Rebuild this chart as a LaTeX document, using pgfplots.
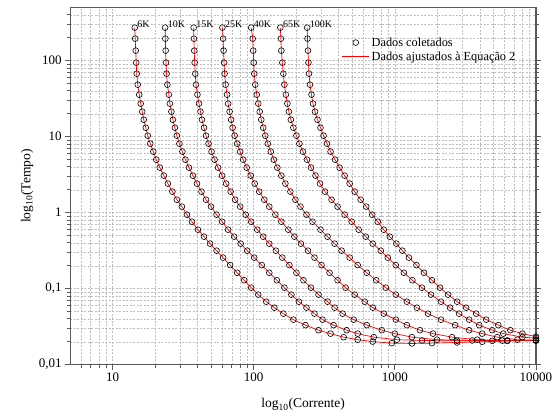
\documentclass[border=0pt]{standalone}
\usepackage{fontspec}
\setmainfont{Liberation Serif}
\usepackage{pgfplots}
\usepackage{pgfplotstable}
\pgfplotsset{compat=1.18}
\pgfplotsset{
  legmark/.style={legend image code/.code={\draw[black, line width=0.6pt] (13.5pt,0pt) circle (2.9pt);}},
  legline/.style={legend image code/.code={\draw[red, line width=0.7pt] (0pt,0pt) -- (27pt,0pt);}},
  circ/.style={only marks, mark=o, mark size=2.9pt, black, mark options={line width=0.6pt}},
  fit/.style={red, line width=0.7pt, no marks},
}

% curva 6K
\pgfplotstableread{
I t
14.35 271.8
14.46 194.7
14.58 135.4
14.70 94.1
14.82 67.4
15.07 48.3
15.44 35.7
15.82 27.2
16.22 21.3
16.62 16.7
17.18 13.1
17.74 10.3
18.49 8.09
19.42 6.35
20.40 4.98
21.60 3.91
23.07 3.07
24.64 2.41
26.52 1.89
28.54 1.48
30.98 1.20
33.63 0.941
36.50 0.761
40.27 0.597
44.43 0.483
49.03 0.391
54.54 0.316
60.66 0.256
68.03 0.204
76.31 0.162
85.59 0.129
96.00 0.103
107.7 0.0834
122.7 0.0674
140.0 0.0562
162.2 0.0469
191.0 0.0391
232.6 0.0331
287.8 0.0284
350.3 0.0256
433.5 0.0230
545.4 0.0213
697.2 0.0201
951.9 0.0192
1321 0.0190
1833 0.0192
2763 0.0196
4161 0.0200
6269 0.0205
10000 0.0209
}\tabA

% curva 10K
\pgfplotstableread{
I t
23.56 271.8
23.65 194.7
23.76 135.4
23.92 94.1
24.11 67.4
24.43 48.3
25.04 35.7
25.45 27.2
26.09 21.3
26.73 16.7
27.63 13.1
28.54 10.3
29.73 8.09
31.23 6.35
32.81 4.98
34.74 3.91
37.10 3.07
39.62 2.41
42.65 1.89
45.91 1.48
49.83 1.20
54.54 0.941
59.67 0.761
65.85 0.597
72.63 0.483
80.81 0.391
89.89 0.316
100.8 0.256
114.0 0.204
128.9 0.162
145.8 0.129
164.9 0.103
184.9 0.0834
209.0 0.0674
236.5 0.0562
269.5 0.0469
307.2 0.0391
367.9 0.0331
455.4 0.0284
545.4 0.0256
708.7 0.0230
1033 0.0213
1557 0.0208
2763 0.0206
4903 0.0206
10000 0.0208
}\tabB

% curva 15K
\pgfplotstableread{
I t
37.53 271.8
37.71 194.7
37.89 135.4
38.15 94.1
38.53 67.4
38.97 48.3
39.94 35.7
40.94 27.2
41.96 21.3
43.00 16.7
44.43 13.1
45.91 10.3
47.83 8.09
50.25 6.35
52.77 4.98
55.88 3.91
59.67 3.07
63.73 2.41
68.60 1.89
73.84 1.48
80.15 1.20
87.71 0.941
96.00 0.761
105.9 0.597
116.8 0.483
128.9 0.391
143.5 0.316
159.5 0.256
178.9 0.204
200.7 0.162
225.1 0.129
254.5 0.103
287.8 0.0834
333.5 0.0674
374.1 0.0562
426.5 0.0469
510.8 0.0391
632.0 0.0331
808.1 0.0284
1000 0.0256
1321 0.0230
1990 0.0213
3532 0.0208
5775 0.0207
10000 0.0208
}\tabC

% curva 25K
\pgfplotstableread{
I t
59.96 271.8
60.66 194.7
61.16 135.4
61.66 94.1
62.18 67.4
63.20 48.3
64.78 35.7
65.85 27.2
67.49 21.3
69.17 16.7
70.87 13.1
73.25 10.3
76.31 8.09
80.15 6.35
84.20 4.98
89.17 3.91
95.19 3.07
101.6 2.41
109.4 1.89
118.8 1.48
128.9 1.20
142.3 0.941
156.9 0.761
176.0 0.597
194.2 0.483
216.0 0.391
242.3 0.316
269.5 0.256
302.2 0.204
344.6 0.162
392.9 0.129
447.8 0.103
519.2 0.0834
611.6 0.0674
697.2 0.0562
835.0 0.0469
1016 0.0391
1217 0.0331
1507 0.0284
1864 0.0256
2545 0.0230
3833 0.0213
6269 0.0208
10000 0.0208
}\tabD

% curva 40K
\pgfplotstableread{
I t
96.00 271.8
98.37 194.7
99.18 135.4
100.0 94.1
100.8 67.4
102.5 48.3
105.1 35.7
107.7 27.2
110.3 21.3
113.1 16.7
116.8 13.1
120.8 10.3
125.8 8.09
132.1 6.35
138.8 4.98
147.0 3.91
156.9 3.07
167.6 2.41
181.9 1.89
197.4 1.48
214.3 1.20
236.5 0.941
260.9 0.761
297.3 0.597
333.5 0.483
374.1 0.391
419.6 0.316
478.3 0.256
545.4 0.204
632.0 0.162
738.4 0.129
862.9 0.103
1016 0.0834
1217 0.0674
1434 0.0562
1718 0.0469
2125 0.0391
2673 0.0331
3363 0.0284
4161 0.0256
5321 0.0230
7384 0.0213
10000 0.0210
}\tabE

% curva 65K
\pgfplotstableread{
I t
154.4 271.8
155.7 194.7
156.9 135.4
159.5 94.1
162.2 67.4
164.9 48.3
169.0 35.7
173.1 27.2
177.4 21.3
183.3 16.7
191.0 13.1
200.7 10.3
210.7 8.09
223.3 6.35
238.4 4.98
254.5 3.91
274.0 3.07
295.0 2.41
320.1 1.89
356.1 1.48
392.9 1.20
440.7 0.941
494.3 0.761
554.4 0.597
621.8 0.483
697.2 0.391
795.0 0.316
891.7 0.256
1016 0.204
1159 0.162
1332 0.129
1557 0.103
1804 0.0834
2125 0.0674
2464 0.0562
2854 0.0469
3363 0.0391
3962 0.0331
4903 0.0284
5870 0.0256
8015 0.0230
10000 0.0223
}\tabF

% curva 100K
\pgfplotstableread{
I t
239.2 271.8
240.4 194.7
242.3 135.4
244.3 94.1
246.4 67.4
250.4 48.3
256.6 35.7
263.0 27.2
271.8 21.3
283.1 16.7
297.3 13.1
312.3 10.3
330.8 8.09
350.3 6.35
377.1 4.98
406.0 3.91
440.7 3.07
478.3 2.41
519.2 1.89
572.7 1.48
626.9 1.20
691.7 0.941
757.0 0.761
835.0 0.597
921.3 0.483
1025 0.391
1131 0.316
1258 0.256
1423 0.204
1609 0.162
1833 0.129
2090 0.103
2384 0.0834
2763 0.0674
3201 0.0562
3771 0.0469
4443 0.0391
5408 0.0331
6585 0.0284
8015 0.0256
10000 0.0234
}\tabG

\begin{document}
\begin{tikzpicture}
\begin{axis}[
  scale only axis, width=465pt, height=356.5pt,
  xmode=log, ymode=log,
  xmin=5, xmax=10000, ymin=0.01, ymax=500,
  xtick={10,100,1000,10000}, xticklabels={10,100,1000,10000},
  ytick={0.01,0.1,1,10,100}, yticklabels={{0,01},{0,1},1,10,100},
  minor xtick={6,7,8,9,20,30,40,50,60,70,80,90,200,300,400,500,600,700,800,900,2000,3000,4000,5000,6000,7000,8000,9000},
  minor ytick={0.02,0.03,0.04,0.05,0.06,0.07,0.08,0.09,0.2,0.3,0.4,0.5,0.6,0.7,0.8,0.9,2,3,4,5,6,7,8,9,20,30,40,50,60,70,80,90,200,300,400},
  grid=both,
  major grid style={gray!50, dash pattern=on 2pt off 1.5pt, line width=0.5pt},
  minor grid style={gray!50, dash pattern=on 2pt off 1.5pt, line width=0.5pt},
  axis line style={black!65, line width=1.2pt},
  tick style={black!65, line width=0.8pt},
  tick align=outside,
  xtick pos=bottom, ytick pos=both,
  major tick length=5pt, minor tick length=3pt,
  tick label style={font=\fontsize{13}{14}\selectfont},
  xlabel={log\textsubscript{10}(Corrente)},
  ylabel={log\textsubscript{10}(Tempo)},
  label style={font=\fontsize{13.5}{15}\selectfont},
  xlabel style={at={(axis description cs:0.5,-0.112)}, anchor=center},
  ylabel style={at={(axis description cs:-0.0925,0.5)}, anchor=center},
  legend style={draw=none, fill=none, at={(axis description cs:0.583,0.922)}, anchor=north west,
    font=\fontsize{12.3}{13}\selectfont, inner sep=0pt, row sep=0pt,
    nodes={inner sep=2pt}},
  legend cell align=left,
]
\addplot[circ, legmark] table[x=I,y=t]{\tabA};
\addlegendentry{Dados coletados}
\addplot[forget plot, circ] table[x=I,y=t]{\tabB};
\addplot[forget plot, circ] table[x=I,y=t]{\tabC};
\addplot[forget plot, circ] table[x=I,y=t]{\tabD};
\addplot[forget plot, circ] table[x=I,y=t]{\tabE};
\addplot[forget plot, circ] table[x=I,y=t]{\tabF};
\addplot[forget plot, circ] table[x=I,y=t]{\tabG};

\addplot[fit, legline] table[x=I,y=t]{\tabA};
\addlegendentry{Dados ajustados à Equação 2}
\addplot[forget plot, fit] table[x=I,y=t]{\tabB};
\addplot[forget plot, fit] table[x=I,y=t]{\tabC};
\addplot[forget plot, fit] table[x=I,y=t]{\tabD};
\addplot[forget plot, fit] table[x=I,y=t]{\tabE};
\addplot[forget plot, fit] table[x=I,y=t]{\tabF};
\addplot[forget plot, fit] table[x=I,y=t]{\tabG};

\begin{scope}[every node/.style={anchor=base west, inner sep=0pt, xshift=2.5pt, font=\fontsize{10}{10}\selectfont}]
\node at (axis cs:14.35,271.8) {6K};
\node at (axis cs:23.56,271.8) {10K};
\node at (axis cs:37.53,271.8) {15K};
\node at (axis cs:59.96,271.8) {25K};
\node at (axis cs:96.00,271.8) {40K};
\node at (axis cs:154.4,271.8) {65K};
\node at (axis cs:239.2,271.8) {100K};
\end{scope}
\end{axis}
\pgfresetboundingbox
\path ([shift={(-70pt,-51pt)}]current axis.south west) rectangle ([shift={(23pt,7.5pt)}]current axis.north east);
\end{tikzpicture}
\end{document}
